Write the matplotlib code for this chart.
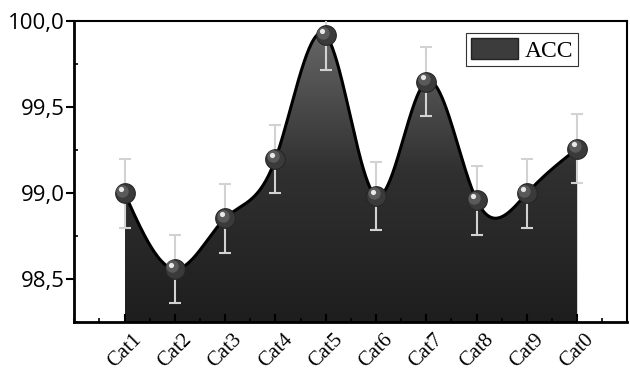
import matplotlib
matplotlib.use("Agg")
import matplotlib.pyplot as plt
import numpy as np
from matplotlib.patches import Patch
from matplotlib.ticker import FuncFormatter, MultipleLocator

cats = ["Cat1", "Cat2", "Cat3", "Cat4", "Cat5", "Cat6", "Cat7", "Cat8", "Cat9", "Cat0"]
acc = [99.0, 98.56, 98.855, 99.2, 99.92, 98.985, 99.65, 98.96, 99.0, 99.26]
err = [0.2, 0.2, 0.2, 0.2, 0.2, 0.2, 0.2, 0.2, 0.2, 0.2]


def natural_spline(x, y, xs):
    # natural cubic spline, just for drawing the smooth outline
    x = np.asarray(x, float)
    y = np.asarray(y, float)
    n = len(x)
    h = np.diff(x)
    A = np.zeros((n, n))
    b = np.zeros(n)
    A[0, 0] = A[-1, -1] = 1
    for i in range(1, n - 1):
        A[i, i - 1] = h[i - 1]
        A[i, i] = 2 * (h[i - 1] + h[i])
        A[i, i + 1] = h[i]
        b[i] = 3 * ((y[i + 1] - y[i]) / h[i] - (y[i] - y[i - 1]) / h[i - 1])
    c = np.linalg.solve(A, b)
    out = np.empty_like(xs)
    for k, t in enumerate(xs):
        i = min(max(np.searchsorted(x, t) - 1, 0), n - 2)
        bb = (y[i + 1] - y[i]) / h[i] - h[i] * (2 * c[i] + c[i + 1]) / 3
        d = (c[i + 1] - c[i]) / (3 * h[i])
        dt = t - x[i]
        out[k] = y[i] + bb * dt + c[i] * dt ** 2 + d * dt ** 3
    return out


pos = np.arange(1, len(cats) + 1)
xs = np.linspace(pos[0], pos[-1], 600)
ys = natural_spline(pos, acc, xs)

ymin, ymax = 98.25, 100.0

fig = plt.figure(figsize=(6.3, 3.76), dpi=100)
ax = fig.add_axes([0.118, 0.143, 0.878, 0.8])

# gradient fill under the curve
fill = ax.fill_between(xs, ys, ymin, color="none", lw=0)
grad = np.linspace(0, 1, 256).reshape(-1, 1)
cmap = matplotlib.colors.LinearSegmentedColormap.from_list(
    "g", ["#1e1e1e", "#303030", "#6a6a6a"])
img = ax.imshow(grad, extent=[pos[0], pos[-1], ymin, ymax], origin="lower",
                cmap=cmap, aspect="auto", zorder=1)
img.set_clip_path(fill.get_paths()[0], transform=ax.transData)

ax.plot(xs, ys, color="black", lw=2.2, zorder=3)

ax.errorbar(pos, acc, yerr=err, fmt="none", ecolor="#d2d2d2", elinewidth=1.5,
            capsize=4, capthick=1.5, zorder=4)

# shaded ball markers
ax.scatter(pos, acc, s=200, color="#3a3a3a", edgecolor="#262626", lw=0.8, zorder=5)
ax.scatter(pos - 0.05, np.array(acc) + 0.015, s=80, color="#5a5a5a", lw=0, zorder=6)
ax.scatter(pos - 0.07, np.array(acc) + 0.025, s=14, color="#e8e8e8", lw=0, zorder=7)

ax.set_xlim(0, 11)
ax.set_ylim(ymin, ymax)
ax.set_xticks(pos)
ax.set_xticklabels(cats, rotation=45, family="Liberation Serif", fontsize=15,
                   ha="center")
ax.xaxis.set_minor_locator(MultipleLocator(0.5))
ax.set_yticks([98.5, 99.0, 99.5, 100.0])
ax.yaxis.set_major_formatter(FuncFormatter(lambda v, p: f"{v:.1f}".replace(".", ",")))
ax.yaxis.set_minor_locator(MultipleLocator(0.25))
for lab in ax.get_yticklabels():
    lab.set_family("Open Sans")
    lab.set_fontsize(16)

ax.tick_params(axis="x", which="major", direction="in", length=6, width=1.5, pad=6)
ax.tick_params(axis="x", which="minor", direction="in", length=3, width=1.2)
ax.tick_params(axis="y", which="major", direction="out", length=6, width=1.5, pad=1)
ax.tick_params(axis="y", which="minor", direction="in", length=3, width=1.2)

ax.spines["left"].set_linewidth(2)
ax.spines["bottom"].set_linewidth(2)
ax.spines["top"].set_linewidth(1.5)
ax.spines["right"].set_linewidth(1.5)

leg = ax.legend(handles=[Patch(facecolor="#3c3c3c", edgecolor="#222222", label="ACC")],
                loc="upper right", bbox_to_anchor=(0.911, 0.961), borderaxespad=0,
                fancybox=False, framealpha=1, edgecolor="#333333",
                handlelength=2.0, handleheight=1.0, handletextpad=0.3,
                prop={"family": "Liberation Serif", "size": 17}, borderpad=0.2)
leg.get_frame().set_linewidth(0.8)

fig.savefig("out.png", dpi=100)
